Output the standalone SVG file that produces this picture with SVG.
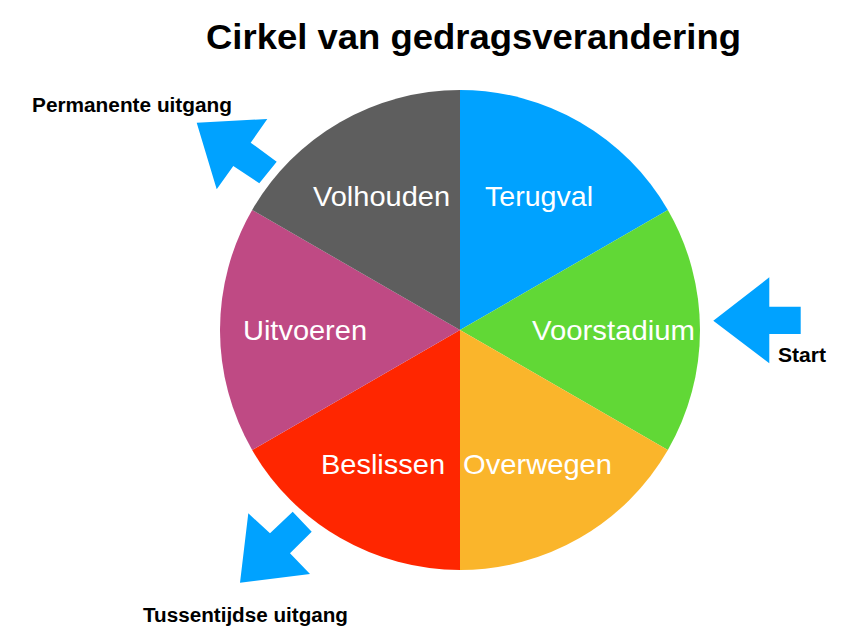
<svg xmlns="http://www.w3.org/2000/svg" width="864" height="630" viewBox="0 0 864 630">
  <style>
    .title { font-family: "Liberation Sans", Arial, sans-serif; font-weight: bold; font-size: 35px; fill: #000; }
    .seg { font-family: "Liberation Sans", Arial, sans-serif; font-size: 28px; fill: #fff; }
    .lbl { font-family: "Liberation Sans", Arial, sans-serif; font-weight: bold; font-size: 20px; fill: #000; }
    .arrow { fill: #00A2FF; }
  </style>
  <rect width="864" height="630" fill="#fff"/>
  <text class="title" x="206" y="49" textLength="535" lengthAdjust="spacingAndGlyphs">Cirkel van gedragsverandering</text>

  <g id="terugval">
    <path d="M460,330 L460,90 A240,240 0 0 1 667.85,210 Z" fill="#00A2FF"/>
    <text class="seg" x="485" y="206" textLength="108" lengthAdjust="spacingAndGlyphs">Terugval</text>
  </g>
  <g id="voorstadium">
    <path d="M460,330 L667.85,210 A240,240 0 0 1 667.85,450 Z" fill="#61D836"/>
    <text class="seg" x="532" y="340" textLength="163" lengthAdjust="spacingAndGlyphs">Voorstadium</text>
  </g>
  <g id="overwegen">
    <path d="M460,330 L667.85,450 A240,240 0 0 1 460,570 Z" fill="#FAB52B"/>
    <text class="seg" x="463" y="474" textLength="149" lengthAdjust="spacingAndGlyphs">Overwegen</text>
  </g>
  <g id="beslissen">
    <path d="M460,330 L460,570 A240,240 0 0 1 252.15,450 Z" fill="#FF2600"/>
    <text class="seg" x="321" y="474" textLength="124" lengthAdjust="spacingAndGlyphs">Beslissen</text>
  </g>
  <g id="uitvoeren">
    <path d="M460,330 L252.15,450 A240,240 0 0 1 252.15,210 Z" fill="#BF4A84"/>
    <text class="seg" x="243" y="340" textLength="124" lengthAdjust="spacingAndGlyphs">Uitvoeren</text>
  </g>
  <g id="volhouden">
    <path d="M460,330 L252.15,210 A240,240 0 0 1 460,90 Z" fill="#5E5E5E"/>
    <text class="seg" x="313" y="206" textLength="137" lengthAdjust="spacingAndGlyphs">Volhouden</text>
  </g>

  <g id="connectors">
    <polygon class="arrow" points="196.7,122.7 267.3,119 250.7,142.7 276.7,161.7 259.3,183.3 233.3,166 216.7,189.3"/>
    <polygon class="arrow" points="713.3,320.7 769.3,277.3 769.3,306.7 800.7,306.7 800.7,334 769.3,334 769.3,363.3"/>
    <polygon class="arrow" points="240,582.7 248.3,513.3 270,533.3 292.7,511.7 311.7,531.7 290,553.3 310,574"/>
  </g>

  <g id="labels">
    <text class="lbl" x="32" y="112" textLength="200" lengthAdjust="spacingAndGlyphs">Permanente uitgang</text>
    <text class="lbl" x="778" y="362" textLength="48" lengthAdjust="spacingAndGlyphs">Start</text>
    <text class="lbl" x="143" y="622" textLength="205" lengthAdjust="spacingAndGlyphs">Tussentijdse uitgang</text>
  </g>
</svg>
